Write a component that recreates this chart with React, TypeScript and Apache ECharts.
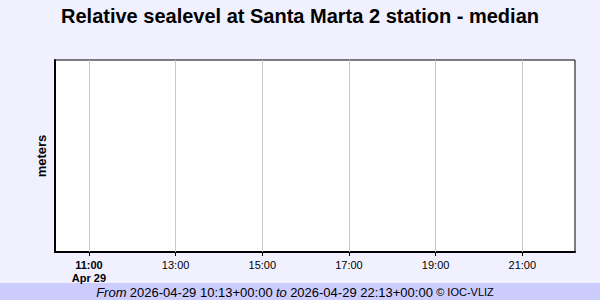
import React, { useEffect, useRef } from "react";
import * as echarts from "echarts";

// ---- data ----
const titleText = "Relative sealevel at Santa Marta 2 station - median";
const yAxisName = "meters";
const rangeStart = "2026-04-29T10:13:00Z";
const rangeEnd = "2026-04-29T22:13:00Z";
const tickTimes = [
  "2026-04-29T11:00:00Z",
  "2026-04-29T13:00:00Z",
  "2026-04-29T15:00:00Z",
  "2026-04-29T17:00:00Z",
  "2026-04-29T19:00:00Z",
  "2026-04-29T21:00:00Z",
];
const tickLabels = ["11:00", "13:00", "15:00", "17:00", "19:00", "21:00"];
const firstTickDate = "Apr 29";
// median sea level series: no observations in this window
const seaLevelTimes: string[] = [];
const seaLevelValues: number[] = [];
const footerFrom = "2026-04-29 10:13+00:00";
const footerTo = "2026-04-29 22:13+00:00";
const footerCredit = "© IOC-VLIZ";

const FONT = "'Liberation Sans', Arial, Helvetica, sans-serif";

export default function App() {
  const ref = useRef<HTMLDivElement>(null);

  useEffect(() => {
    if (!ref.current) return;
    const chart = echarts.init(ref.current, undefined, { renderer: "svg" });
    const tickMs = tickTimes.map((t) => Date.parse(t));
    const labelFor = (v: number) => {
      const i = tickMs.indexOf(v);
      if (i < 0) return "";
      if (i === 0) return `{b|${tickLabels[i]}}\n{b|${firstTickDate}}`;
      return `{n|${tickLabels[i]}}`;
    };
    chart.setOption({
      animation: false,
      backgroundColor: "#f0f0ff",
      textStyle: { fontFamily: FONT },
      grid: {
        left: 55,
        right: 25,
        top: 60,
        bottom: 48,
        show: true,
        backgroundColor: "#ffffff",
        borderColor: "#000000",
        borderWidth: 1,
      },
      xAxis: {
        type: "value",
        min: Date.parse(rangeStart),
        max: Date.parse(rangeEnd),
        axisLine: { show: true, lineStyle: { color: "#000", width: 2 } },
        axisTick: {
          show: true,
          customValues: tickMs,
          length: 4,
          lineStyle: { color: "#000", width: 1 },
        },
        axisLabel: {
          customValues: tickMs,
          formatter: labelFor,
          margin: 6,
          color: "#000",
          rich: {
            b: { fontFamily: FONT, fontSize: 11, fontWeight: "bold", color: "#000", lineHeight: 13 },
            n: { fontFamily: FONT, fontSize: 11, color: "#000", lineHeight: 13 },
          },
        },
        splitLine: { show: false },
      },
      yAxis: {
        type: "value",
        min: 0,
        max: 1,
        name: yAxisName,
        nameLocation: "middle",
        nameGap: 7,
        nameTextStyle: { fontFamily: FONT, fontSize: 13, fontWeight: "bold", color: "#000" },
        axisLine: { show: true, lineStyle: { color: "#000", width: 2 } },
        axisTick: { show: false },
        axisLabel: { show: false },
        splitLine: { show: false },
      },
      series: [
        {
          type: "line",
          name: "median",
          showSymbol: false,
          data: seaLevelTimes.map((t, i) => [Date.parse(t), seaLevelValues[i]]),
          lineStyle: { color: "#0000ff", width: 1 },
          markLine: {
            silent: true,
            symbol: ["none", "none"],
            label: { show: false },
            lineStyle: { color: "#c8c8c8", type: "solid", width: 1 },
            data: tickMs.map((v) => ({ xAxis: v })),
          },
        },
      ],
      graphic: [
        {
          type: "text",
          x: 300,
          y: 16,
          style: {
            text: titleText,
            align: "center",
            verticalAlign: "middle",
            font: `bold 20px ${FONT}`,
            fill: "#000",
          },
        },
        {
          type: "rect",
          shape: { x: 0, y: 283, width: 600, height: 17 },
          style: { fill: "#ccccff" },
        },
        {
          type: "text",
          x: 295,
          y: 292,
          style: {
            text: `{i|From} {n|${footerFrom}} {i|to} {n|${footerTo}} {s|${footerCredit}}`,
            align: "center",
            verticalAlign: "middle",
            rich: {
              i: { fontFamily: FONT, fontSize: 13, fontStyle: "italic", fill: "#000" },
              n: { fontFamily: FONT, fontSize: 13, fill: "#000" },
              s: { fontFamily: FONT, fontSize: 11, fill: "#000" },
            },
          },
        },
      ],
    });
    return () => chart.dispose();
  }, []);

  return (
    <div
      ref={ref}
      style={{ position: "fixed", left: 0, top: 0, width: 600, height: 300 }}
    />
  );
}
